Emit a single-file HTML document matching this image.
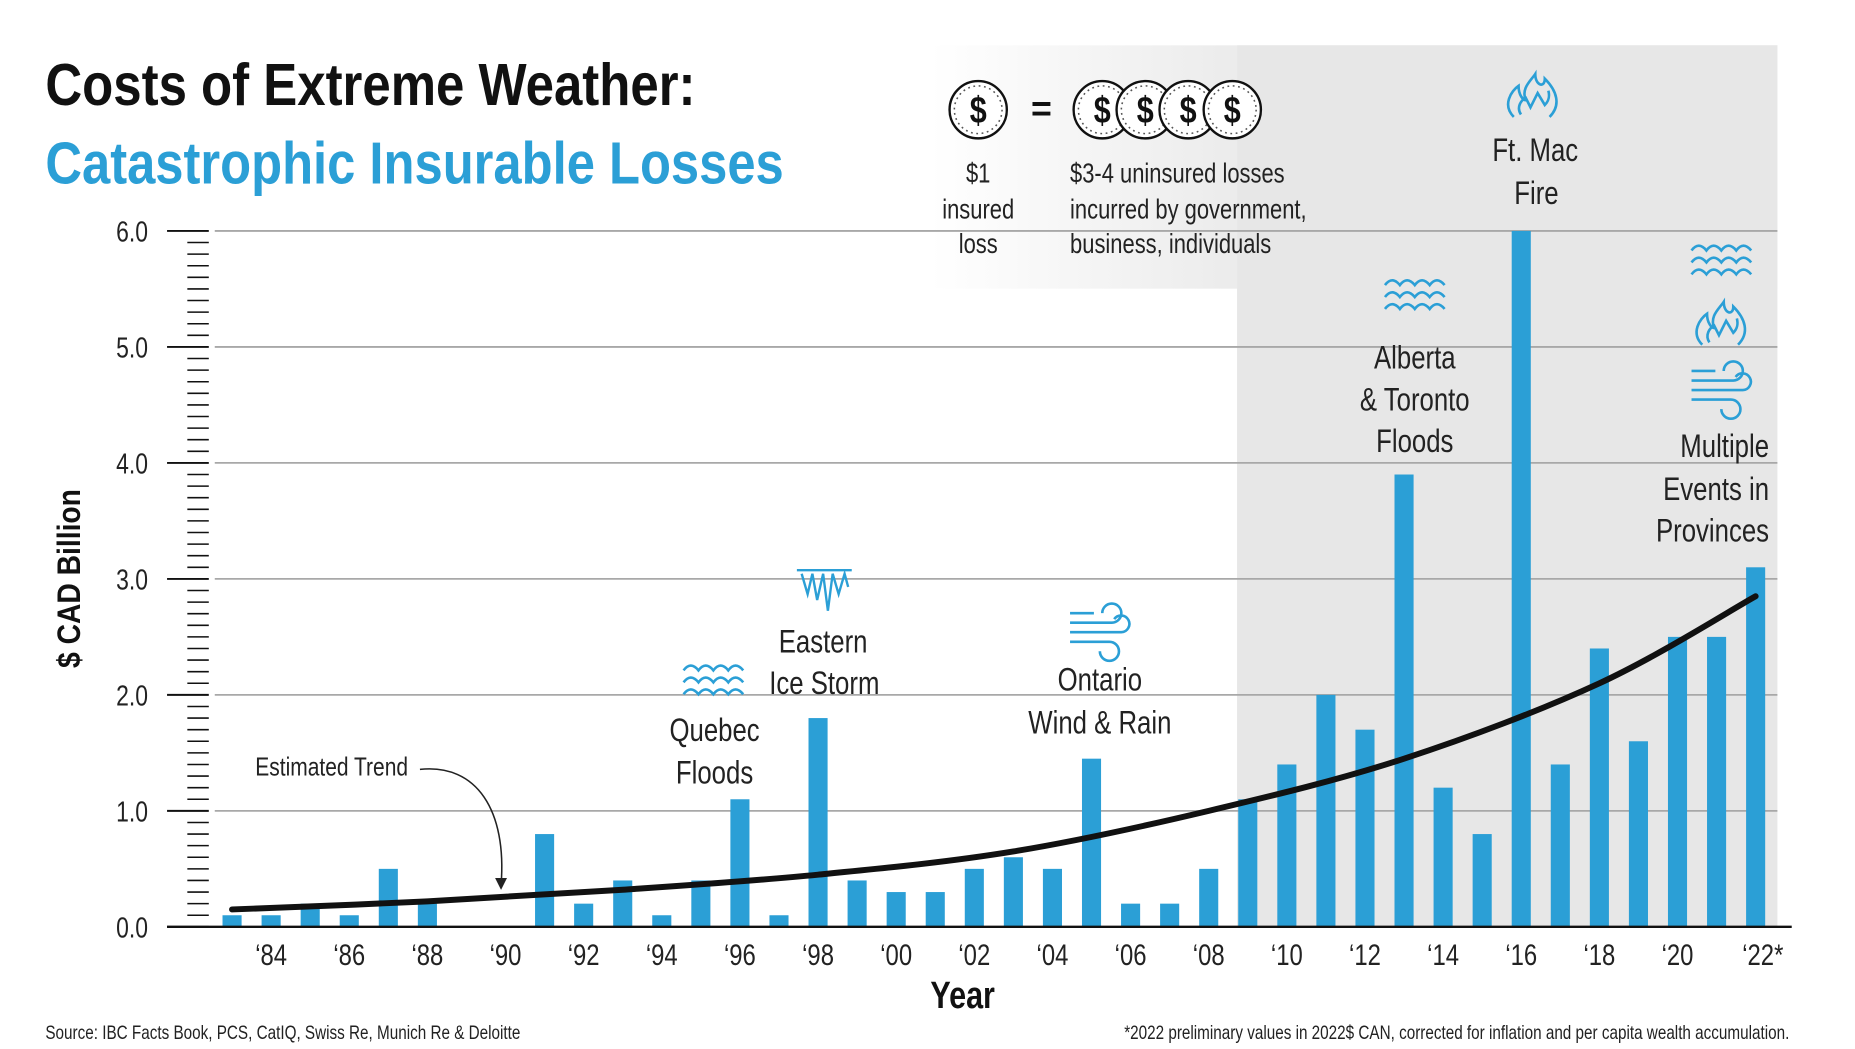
<!DOCTYPE html>
<html><head><meta charset="utf-8">
<style>
html,body{margin:0;padding:0;background:#fff;}
svg{display:block;}
text{font-family:"Liberation Sans Narrow","Liberation Sans",sans-serif;}
</style></head>
<body>
<svg id="chart" width="1855" height="1049" viewBox="0 0 1555 879.4" xmlns="http://www.w3.org/2000/svg">
<defs>
<linearGradient id="fadeL" x1="0" x2="1" y1="0" y2="0">
<stop offset="0" stop-color="#e7e7e7" stop-opacity="0"/>
<stop offset="0.35" stop-color="#e7e7e7" stop-opacity="0.8"/>
<stop offset="1" stop-color="#e7e7e7"/>
</linearGradient>
<g id="coin"><circle r="24" fill="#fff" stroke="#111" stroke-width="2"/><circle r="20" fill="none" stroke="#555" stroke-width="1.3" stroke-dasharray="1.5 3"/><text y="11" text-anchor="middle" font-size="32" font-weight="bold" fill="#111" transform="scale(0.8,1)">$</text></g>
<g id="waves" fill="none" stroke="#2b9fd6" stroke-width="2.2">
<path d="M-25,-10 q6,-8 12.5,0 q6,-8 12.5,0 q6,-8 12.5,0 q6,-8 12.5,0"/>
<path d="M-25,0 q6,-8 12.5,0 q6,-8 12.5,0 q6,-8 12.5,0 q6,-8 12.5,0"/>
<path d="M-25,10 q6,-8 12.5,0 q6,-8 12.5,0 q6,-8 12.5,0 q6,-8 12.5,0"/></g>
<g id="flame" fill="none" stroke="#2b9fd6" stroke-width="2.2">
<path d="M-16,16 C-26,6 -18,-6 -12,-10 C-12,-2 -8,2 -6,2 C-10,-8 -2,-14 2,-20 C2,-10 10,-8 10,-16 C20,-6 24,6 14,16"/>
<path d="M-10,14 C-14,8 -10,2 -6,0 L-2,8 L4,-4 L10,6 C14,2 14,-2 13,-6"/></g>
<g id="wind" fill="none" stroke="#2b9fd6" stroke-width="2.2">
<path d="M-25,-6 H10 A8,8 0 1 0 2,-14"/><path d="M-25,2 H18 A7,7 0 1 0 12,-9"/><path d="M-25,10 H8 A8,8 0 1 1 0,18"/><path d="M-25,-14 H-5"/></g>
</defs>

<rect x="780" y="38" width="710" height="204" fill="url(#fadeL)"/>
<rect x="1037" y="38" width="453" height="739" fill="#e7e7e7"/>

<text x="38" y="88" font-size="50" font-weight="bold" fill="#111" textLength="545" lengthAdjust="spacingAndGlyphs">Costs of Extreme Weather:</text>
<text x="38" y="154" font-size="50" font-weight="bold" fill="#2b9fd6" textLength="619" lengthAdjust="spacingAndGlyphs">Catastrophic Insurable Losses</text>

<g>
<use href="#coin" x="820" y="92"/>
<text x="873" y="101" text-anchor="middle" font-size="30" font-weight="bold" fill="#111">=</text>
<use href="#coin" x="924" y="92"/><use href="#coin" x="960" y="92"/><use href="#coin" x="996" y="92"/><use href="#coin" x="1033" y="92"/>
<g font-size="23" fill="#222" text-anchor="middle">
<text class="c" x="820" y="153">$1</text><text class="c" x="820" y="183">insured</text><text class="c" x="820" y="212">loss</text></g>
<g font-size="23" fill="#222">
<text class="c" x="897" y="153">$3-4 uninsured losses</text><text class="c" x="897" y="183">incurred by government,</text><text class="c" x="897" y="212">business, individuals</text></g>
</g>

<g id="grid"></g>
<g id="yaxis"></g>
<g id="bars"></g>
<path id="trend" fill="none" stroke="#111" stroke-width="5" stroke-linecap="round"/>
<g id="xaxis"></g>

<text transform="translate(67,485) rotate(-90)" text-anchor="middle" font-size="27" font-weight="bold" font-family="Liberation Sans, sans-serif" fill="#111" textLength="150" lengthAdjust="spacingAndGlyphs">$ CAD Billion</text>
<text class="c" x="807" y="845" text-anchor="middle" font-size="32" font-weight="bold" fill="#111">Year</text>

<g font-size="27" fill="#222" text-anchor="middle">
<text class="c" x="278" y="650" font-size="22">Estimated Trend</text>
<path d="M352,645 C400,640 425,680 420,742" fill="none" stroke="#222" stroke-width="1.3"/>
<path d="M415,736 L420,746 L425,736 Z" fill="#222"/>
<use href="#waves" x="598" y="572"/>
<text class="c" x="599" y="621">Quebec</text><text class="c" x="599" y="657">Floods</text>
<g fill="none" stroke="#2b9fd6" stroke-width="2"><path d="M668,478 H714"/><path d="M672,481 L677,498 L681,481 L685,503 L690,481 L694,512 L698,481 L703,498 L708,481 L711,492"/></g>
<text class="c" x="690" y="547">Eastern</text><text class="c" x="691" y="582">Ice Storm</text>
<use href="#wind" x="922" y="528"/>
<text class="c" x="922" y="579">Ontario</text><text class="c" x="922" y="615">Wind &amp; Rain</text>
<use href="#waves" x="1186" y="249"/>
<text class="c" x="1186" y="309">Alberta</text><text class="c" x="1186" y="344">&amp; Toronto</text><text class="c" x="1186" y="379">Floods</text>
<use href="#flame" x="1285" y="82"/>
<text class="c" x="1287" y="135">Ft. Mac</text><text class="c" x="1288" y="171">Fire</text>
<use href="#waves" x="1443" y="220"/><use href="#flame" x="1443" y="273"/><use href="#wind" x="1443" y="325"/>
<g text-anchor="end"><text class="c" x="1483" y="383">Multiple</text><text class="c" x="1483" y="419">Events in</text><text class="c" x="1483" y="454">Provinces</text></g>
</g>

<text class="c" x="38" y="871" font-size="16" fill="#222">Source: IBC Facts Book, PCS, CatIQ, Swiss Re, Munich Re &amp; Deloitte</text>
<text class="c" x="1500" y="871" text-anchor="end" font-size="16" fill="#222">*2022 preliminary values in 2022$ CAN, corrected for inflation and per capita wealth accumulation.</text>
</svg>
<script>
const years = [1983,1984,1985,1986,1987,1988,1989,1990,1991,1992,1993,1994,1995,1996,1997,1998,1999,2000,2001,2002,2003,2004,2005,2006,2007,2008,2009,2010,2011,2012,2013,2014,2015,2016,2017,2018,2019,2020,2021,2022];
const losses = [0.1,0.1,0.2,0.1,0.5,0.2,0,0,0.8,0.2,0.4,0.1,0.4,1.1,0.1,1.8,0.4,0.3,0.3,0.5,0.6,0.5,1.45,0.2,0.2,0.5,1.1,1.4,2.0,1.7,3.9,1.2,0.8,6.0,1.4,2.4,1.6,2.5,2.5,3.1];
const trendYears = [1983,1988,1993,1998,2003,2008,2013,2018,2022];
const trendValues = [0.15,0.22,0.32,0.45,0.65,1.0,1.45,2.1,2.85];
const yTicks = [0,1,2,3,4,5,6];
const yTickLabels = ["0.0","1.0","2.0","3.0","4.0","5.0","6.0"];
const xTickYears = [1984,1986,1988,1990,1992,1994,1996,1998,2000,2002,2004,2006,2008,2010,2012,2014,2016,2018,2020,2022];
const xTickLabels = ["\u201884","\u201886","\u201888","\u201890","\u201892","\u201894","\u201896","\u201898","\u201800","\u201802","\u201804","\u201806","\u201808","\u201810","\u201812","\u201814","\u201816","\u201818","\u201820","\u201822*"];

const NS="http://www.w3.org/2000/svg";
const y0=777, yTop=193.6, vMax=6;
const x0=194.5, step=32.75;
function yS(v){return y0-(v/vMax)*(y0-yTop);}
function xS(yr){return x0+(yr-1983)*step;}
function mk(tag,attrs,parent){const e=document.createElementNS(NS,tag);for(const k in attrs)e.setAttribute(k,attrs[k]);parent.appendChild(e);return e;}

const grid=document.getElementById('grid'), ya=document.getElementById('yaxis'), bars=document.getElementById('bars'), xa=document.getElementById('xaxis');
yTicks.forEach((v,i)=>{
  if(v>0){const g=mk('line',{x1:180,x2:1490,y1:yS(v),y2:yS(v),stroke:'#a8a8a8','stroke-width':1.5},grid);
  
  }
  const t=mk('line',{x1:140,x2:175,y1:yS(v),y2:yS(v),stroke:'#111','stroke-width':1.6},ya);
  
  
  const l=mk('text',{x:124,y:yS(v)+9,'text-anchor':'end','font-size':24,fill:'#222','class':'c'},ya);
  l.textContent=yTickLabels[i];
  
  
});
for(let k=1;k<60;k++){ if(k%10===0) continue;
  const m=mk('line',{x1:157,x2:175,y1:yS(k/10),y2:yS(k/10),stroke:'#111','stroke-width':1.3},ya);
  
  
}
years.forEach((yr,i)=>{
  const v=losses[i]; if(v<=0) return;
  const b=mk('rect',{x:xS(yr)-8,y:yS(v),width:16,height:y0-yS(v),fill:'#2b9fd6'},bars);
  
  
});
const pts=trendYears.map((yr,i)=>[xS(yr),yS(trendValues[i])]);
let d='M'+pts[0][0]+','+pts[0][1];
for(let i=0;i<pts.length-1;i++){
  const p0=pts[Math.max(0,i-1)],p1=pts[i],p2=pts[i+1],p3=pts[Math.min(pts.length-1,i+2)];
  const c1=[p1[0]+(p2[0]-p0[0])/6,p1[1]+(p2[1]-p0[1])/6], c2=[p2[0]-(p3[0]-p1[0])/6,p2[1]-(p3[1]-p1[1])/6];
  d+=' C'+c1+' '+c2+' '+p2;
}
document.getElementById('trend').setAttribute('d',d);
const base=mk('line',{x1:140,x2:1502,y1:y0,y2:y0,stroke:'#111','stroke-width':2},xa);


xTickYears.forEach((yr,i)=>{
  const t=mk('text',{x:xS(yr)+(i===xTickYears.length-1?6:0),y:809,'text-anchor':'middle','font-size':25,fill:'#222','class':'c'},xa);
  t.textContent=xTickLabels[i];
  
  
});
// condense text to mimic narrow typeface
document.querySelectorAll('text.c').forEach(t=>{
  const len=t.getComputedTextLength();
  if(len>0){t.setAttribute('textLength',(len*0.8).toFixed(1));t.setAttribute('lengthAdjust','spacingAndGlyphs');}
});
</script>
</body></html>
